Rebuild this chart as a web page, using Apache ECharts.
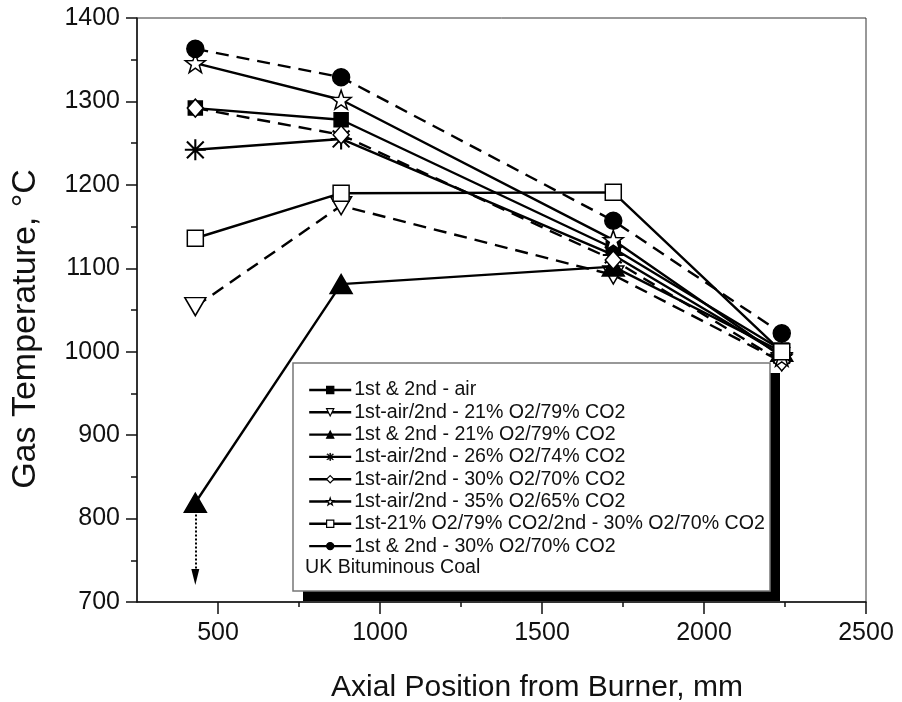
<!DOCTYPE html>
<html>
<head>
<meta charset="utf-8">
<script src="https://cdn.jsdelivr.net/npm/echarts@6/dist/echarts.min.js"></script>
<style>
html,body{margin:0;padding:0;background:#fff;}
#chart{width:902px;height:702px;}
</style>
</head>
<body>
<div id="chart"></div>
<script>
// ---- data ----
var positions = [430, 880, 1720, 2240];
var names = [
  '1st & 2nd - air',
  '1st-air/2nd - 21% O2/79% CO2',
  '1st & 2nd - 21% O2/79% CO2',
  '1st-air/2nd - 26% O2/74% CO2',
  '1st-air/2nd - 30% O2/70% CO2',
  '1st-air/2nd - 35% O2/65% CO2',
  '1st-21% O2/79% CO2/2nd - 30% O2/70% CO2',
  '1st & 2nd - 30% O2/70% CO2'
];
var airBoth      = [1292, 1278, 1124, 1002];
var air21        = [1054, 1175, 1092, 988];
var both21       = [819, 1081, 1102, 1000];
var air26        = [1242, 1255, 1116, 996];
var air30        = [1292, 1260, 1110, 988];
var air35        = [1346, 1302, 1134, 994];
var first21sec30 = [1136, 1190, 1191, 1000];
var both30       = [1363, 1329, 1157, 1022];
var arrowX = 430, arrowFrom = 805, arrowTo = 730;
var xTicks = [500, 1000, 1500, 2000, 2500];
var xMinorTicks = [750, 1250, 1750, 2250];
var yMin = 700, yMax = 1400, yStep = 100;
var xMin = 250, xMax = 2500;
var noteText = 'UK Bituminous Coal';
var xTitle = 'Axial Position from Burner, mm';
var yTitle = 'Gas Temperature, \u00B0C';

// ---- styling ----
var FONT = 'Liberation Sans, Arial, Helvetica, sans-serif';
var starPath = 'path://M10 0 L12.35 6.76 L19.51 6.91 L13.8 11.24 L15.88 18.09 L10 14 L4.12 18.09 L6.2 11.24 L0.49 6.91 L7.65 6.76 Z';
var asteriskPath = 'path://M9 0 L11 0 L11 20 L9 20 Z M0 9 L20 9 L20 11 L0 11 Z M1.3 2.7 L2.7 1.3 L18.7 17.3 L17.3 18.7 Z M17.3 1.3 L18.7 2.7 L2.7 18.7 L1.3 17.3 Z';
var dash = [13, 8];

function pts(vals){ return vals.map(function(v,i){ return [positions[i], v]; }); }

var defs = [
  {data: airBoth, symbol:'rect', size:14, fill:'#000', dashed:false},
  {data: air21, symbol:'triangle', size:[21,18], fill:'#fff', dashed:true, rotate:180},
  {data: both21, symbol:'triangle', size:[22,19], fill:'#000', dashed:false},
  {data: air26, symbol:asteriskPath, size:21, fill:'#000', dashed:false, border:0},
  {data: air30, symbol:'diamond', size:[16,18], fill:'#fff', dashed:true},
  {data: air35, symbol:starPath, size:[20,19], fill:'#fff', dashed:false},
  {data: first21sec30, symbol:'rect', size:16, fill:'#fff', dashed:false},
  {data: both30, symbol:'circle', size:17, fill:'#000', dashed:true}
];

var series = defs.map(function(d, i){
  return {
    name: names[i],
    type: 'line',
    data: pts(d.data),
    symbol: d.symbol,
    symbolSize: d.size,
    symbolRotate: d.rotate || 0,
    showAllSymbol: true,
    z: 3 + i,
    lineStyle: {color:'#000', width:2.4, type: d.dashed ? dash : 'solid'},
    itemStyle: {color: d.fill, borderColor:'#000', borderWidth: d.border === 0 ? 0 : 1.5, opacity:1},
    emphasis: {disabled:true},
    animation: false
  };
});
series[2].markLine = {
  silent: true,
  symbol: ['none', 'triangle'],
  symbolSize: [8, 16],
  label: {show:false},
  lineStyle: {color:'#000', width:2, type:'dotted'},
  emphasis: {disabled:true},
  data: [[{coord:[arrowX, arrowFrom]}, {coord:[arrowX, arrowTo]}]]
};

var legendData = names.map(function(n, i){
  var d = defs[i];
  return {
    name: n,
    itemStyle: {color: d.fill, borderColor:'#000', borderWidth: d.border === 0 ? 0.8 : 1.2}
  };
});

var chart = echarts.init(document.getElementById('chart'), null, {renderer:'canvas'});
chart.setOption({
  animation: false,
  backgroundColor: '#fff',
  grid: {left:137, right:36, top:18, bottom:100, show:true, borderColor:'#333', borderWidth:1, backgroundColor:'transparent'},
  xAxis: [{
    type:'value', min:xMin, max:xMax,
    axisLine:{show:true, onZero:false, lineStyle:{color:'#111', width:1.5}},
    axisTick:{show:true, customValues:xTicks, length:12, lineStyle:{color:'#111', width:1.5}},
    axisLabel:{customValues:xTicks, margin:19, fontSize:25, color:'#111', fontFamily:FONT,
      formatter:function(v){ return String(v); }},
    splitLine:{show:false}
  },{
    type:'value', min:xMin, max:xMax, position:'bottom', gridIndex:0,
    axisLine:{show:false},
    axisTick:{show:true, customValues:xMinorTicks, length:5, lineStyle:{color:'#111', width:1.5}},
    axisLabel:{show:false},
    splitLine:{show:false}
  }],
  yAxis: {
    type:'value', min:yMin, max:yMax, interval:yStep,
    axisLine:{show:true, onZero:false, lineStyle:{color:'#111', width:1.5}},
    axisTick:{show:true, length:11, lineStyle:{color:'#111', width:1.5}},
    minorTick:{show:true, splitNumber:2, length:6, lineStyle:{color:'#111', width:1.5}},
    axisLabel:{margin:17, fontSize:25, color:'#111', fontFamily:FONT,
      formatter:function(v){ return String(v); }},
    splitLine:{show:false}, minorSplitLine:{show:false}
  },
  legend: {
    orient:'vertical', left:303, top:375,
    itemWidth:42, itemHeight:9, itemGap:2.3,
    lineStyle:{type:'solid', width:2.4, color:'#000'},
    textStyle:{fontSize:19.6, color:'#111', fontFamily:FONT, lineHeight:20, padding:[0,0,0,-2]},
    selectedMode:false,
    data: legendData
  },
  graphic: [
    {type:'rect', z:0, shape:{x:303, y:373, width:477, height:228}, style:{fill:'#000'}},
    {type:'rect', z:1, shape:{x:293, y:363, width:477, height:228}, style:{fill:'#fff', stroke:'#777', lineWidth:1.5}},
    {type:'text', z:5, left:305, top:558, style:{text:noteText, font:'19.6px '+FONT, fill:'#111'}},
    {type:'text', z:5, x:537, y:688, style:{text:xTitle, font:'30px '+FONT, fill:'#111', align:'center', verticalAlign:'middle'}},
    {type:'text', z:5, x:26, y:329, rotation:Math.PI/2, style:{text:yTitle, font:'34px '+FONT, fill:'#111', align:'center', verticalAlign:'middle'}}
  ],
  series: series
});
</script>
</body>
</html>
